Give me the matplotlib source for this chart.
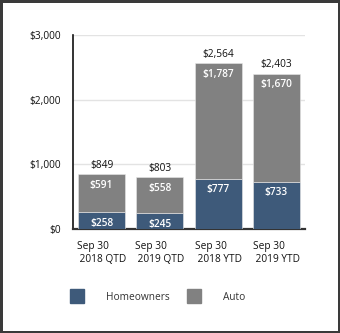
import matplotlib
matplotlib.use("Agg")
import matplotlib.pyplot as plt
from matplotlib.lines import Line2D
import numpy as np

# data
categories = ["Sep 30\n 2018 QTD", "Sep 30\n 2019 QTD", "Sep 30\n 2018 YTD", "Sep 30\n 2019 YTD"]
homeowners = [258, 245, 777, 733]
auto = [591, 558, 1787, 1670]
yticks = [0, 1000, 2000, 3000]

NAVY = "#3e5a7a"
GRAY = "#818181"
plt.rcParams["font.family"] = ["Open Sans", "DejaVu Sans"]
FS = 7.3

fig = plt.figure(figsize=(3.4, 3.33), dpi=100)
fig.patch.set_edgecolor("#3a3a3a")
fig.patch.set_linewidth(2.5)
ax = fig.add_axes([73 / 340, 1 - 229 / 333, 232 / 340, 194 / 333])

x = np.arange(len(categories))
w = 0.81
ax.bar(x, homeowners, w, color=NAVY, edgecolor="#e8e8e8", linewidth=0.4, zorder=3)
ax.bar(x, auto, w, bottom=homeowners, color=GRAY, edgecolor="#e8e8e8", linewidth=0.4, zorder=3)

for xi, h, a in zip(x, homeowners, auto):
    ax.annotate(f"${h:,}", (xi, h), xytext=(0, -11), textcoords="offset pixels",
                ha="center", va="center", color="white", fontsize=FS, fontweight="semibold", zorder=4)
    ax.annotate(f"${a:,}", (xi, h + a), xytext=(0, -11), textcoords="offset pixels",
                ha="center", va="center", color="white", fontsize=FS, fontweight="semibold", zorder=4)
    ax.annotate(f"${h + a:,}", (xi, h + a), xytext=(0, 9), textcoords="offset pixels",
                ha="center", va="center", color="#111111", fontsize=FS, zorder=4)

ax.set_xlim(-0.49, 3.49)
ax.set_ylim(0, 3000)
ax.set_yticks(yticks)
ax.set_yticklabels([f"${v:,}" for v in yticks], fontsize=FS, color="#111111")
ax.set_xticks(x)
ax.set_xticklabels(categories, fontsize=FS, color="#111111", ha="center",
                   multialignment="left", linespacing=1.25)
ax.tick_params(axis="both", length=0)
ax.tick_params(axis="y", pad=9)
ax.tick_params(axis="x", pad=9)
ax.grid(axis="y", color="#e3e3e3", linewidth=1, zorder=0)
for s in ["top", "right"]:
    ax.spines[s].set_visible(False)
ax.spines["left"].set_color("#111111")
ax.spines["left"].set_linewidth(1.2)
ax.spines["bottom"].set_color("#333333")
ax.spines["bottom"].set_linewidth(1.6)

handles = [Line2D([], [], marker="s", linestyle="", markersize=10, color=NAVY),
           Line2D([], [], marker="s", linestyle="", markersize=10, color=GRAY)]
fig.legend(handles, ["Homeowners", "Auto"], loc="center", bbox_to_anchor=(156 / 340, 1 - 297 / 333),
           ncol=2, frameon=False, fontsize=FS, handletextpad=1.9, columnspacing=1.4,
           labelcolor="#333333")

fig.savefig("out.png", dpi=100, edgecolor=fig.get_edgecolor())
